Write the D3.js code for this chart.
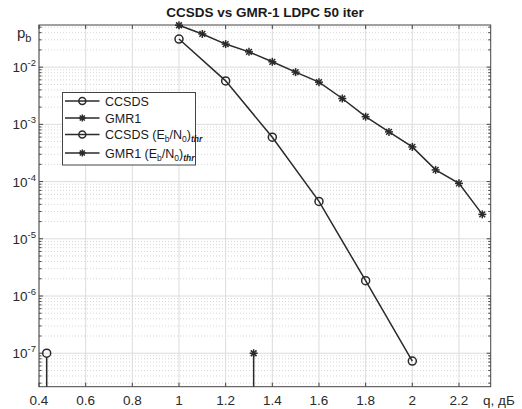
<!DOCTYPE html>
<html><head><meta charset="utf-8">
<script src="https://cdn.jsdelivr.net/npm/d3@7"></script>
<style>body{margin:0;background:#fff;} text{font-family:"Liberation Sans",Arial,sans-serif;}</style>
</head><body>
<svg id="c" width="522" height="409"></svg>
<script>
const ccsdsX = [1.0, 1.2, 1.4, 1.6, 1.8, 2.0];
const ccsdsY = [0.031, 0.00575, 5.96e-4, 4.5e-5, 1.85e-6, 7.3e-8];
const gmrX = [1.0, 1.1, 1.2, 1.3, 1.4, 1.5, 1.6, 1.7, 1.8, 1.9, 2.0, 2.1, 2.2, 2.3];
const gmrY = [0.054, 0.038, 0.0253, 0.0185, 0.0124, 0.00818, 0.00546, 0.00283, 0.00136, 7.38e-4, 4.03e-4, 1.6e-4, 9.3e-5, 2.67e-5];
const thrCcsds = [0.433, 1e-7];
const thrGmr = [1.32, 1e-7];
const xTicks = [0.4, 0.6, 0.8, 1, 1.2, 1.4, 1.6, 1.8, 2, 2.2];
const yExps = [-7, -6, -5, -4, -3, -2];
const legendLabels = ["CCSDS", "GMR1", "CCSDS (E_b/N_0)_thr", "GMR1 (E_b/N_0)_thr"];

const svg = d3.select("#c");
const L = 39, R = 490.7, T = 25, B = 386.7;
const x = d3.scaleLinear().domain([0.4, 2.336]).range([L, R]);
const y = d3.scaleLog().domain([2.6e-8, 0.0545]).range([B, T]);
const ink = "#2a2a2a";
const lw = 1.5;

// grid
const g = svg.append("g");
xTicks.forEach(t => g.append("line").attr("x1", x(t)).attr("x2", x(t)).attr("y1", T).attr("y2", B)
  .attr("stroke", "#dcdcdc").attr("stroke-width", 1));
for (let e = -8; e <= -1; e++) {
  for (let m = 1; m <= 9; m++) {
    const v = m * Math.pow(10, e);
    if (v < y.domain()[0] || v > y.domain()[1]) continue;
    const yy = y(v);
    if (m === 1) g.append("line").attr("x1", L).attr("x2", R).attr("y1", yy).attr("y2", yy).attr("stroke", "#dcdcdc");
    else g.append("line").attr("x1", L).attr("x2", R).attr("y1", yy).attr("y2", yy).attr("stroke", "#d6d6d6").attr("stroke-dasharray", "1,2");
  }
}

// axes box
svg.append("rect").attr("x", L).attr("y", T).attr("width", R - L).attr("height", B - T)
  .attr("fill", "none").attr("stroke", "#444").attr("stroke-width", 1);

// x ticks
xTicks.forEach(t => {
  svg.append("line").attr("x1", x(t)).attr("x2", x(t)).attr("y1", B).attr("y2", B - 4).attr("stroke", "#444");
  svg.append("line").attr("x1", x(t)).attr("x2", x(t)).attr("y1", T).attr("y2", T + 4).attr("stroke", "#444");
  svg.append("text").attr("x", x(t)).attr("y", 405).attr("text-anchor", "middle").attr("font-size", 13.5)
    .attr("fill", "#2a2a2a").text(d3.format("~g")(t));
});
// y ticks
for (let e = -8; e <= -1; e++) {
  for (let m = 1; m <= 9; m++) {
    const v = m * Math.pow(10, e);
    if (v < y.domain()[0] || v > y.domain()[1]) continue;
    const len = m === 1 ? 4 : 2.5;
    svg.append("line").attr("x1", L).attr("x2", L + len).attr("y1", y(v)).attr("y2", y(v)).attr("stroke", "#444");
    svg.append("line").attr("x1", R).attr("x2", R - len).attr("y1", y(v)).attr("y2", y(v)).attr("stroke", "#444");
  }
}
yExps.forEach(e => {
  const t = svg.append("text").attr("x", 36).attr("y", y(Math.pow(10, e)) + 5).attr("text-anchor", "end")
    .attr("font-size", 13.5).attr("fill", "#2a2a2a");
  t.append("tspan").text("10");
  t.append("tspan").attr("font-size", 9.5).attr("dy", -6).text(String(e));
});

// title & axis labels
svg.append("text").attr("x", 265).attr("y", 17).attr("text-anchor", "middle").attr("font-size", 13.5)
  .attr("font-weight", "bold").attr("fill", "#1a1a1a").text("CCSDS vs GMR-1 LDPC 50 iter");
const pb = svg.append("text").attr("x", 17).attr("y", 38).attr("font-size", 15).attr("fill", "#2a2a2a");
pb.append("tspan").text("p");
pb.append("tspan").attr("font-size", 11).attr("dy", 4).text("b");
svg.append("text").attr("x", 483).attr("y", 405).attr("font-size", 13.5).attr("fill", "#2a2a2a").text("q, дБ");

// markers
function star(sel, cx, cy, s) {
  const gg = sel.append("g").attr("stroke", ink).attr("stroke-width", lw);
  gg.append("line").attr("x1", cx - s).attr("x2", cx + s).attr("y1", cy).attr("y2", cy);
  gg.append("line").attr("x1", cx).attr("x2", cx).attr("y1", cy - s).attr("y2", cy + s);
  const d = s * 0.72;
  gg.append("line").attr("x1", cx - d).attr("x2", cx + d).attr("y1", cy - d).attr("y2", cy + d);
  gg.append("line").attr("x1", cx - d).attr("x2", cx + d).attr("y1", cy + d).attr("y2", cy - d);
}
function circ(sel, cx, cy, r) {
  sel.append("circle").attr("cx", cx).attr("cy", cy).attr("r", r).attr("fill", "none").attr("stroke", ink).attr("stroke-width", lw);
}

const line = d3.line().x(d => x(d[0])).y(d => y(d[1]));
const cData = ccsdsX.map((v, i) => [v, ccsdsY[i]]);
const gData = gmrX.map((v, i) => [v, gmrY[i]]);
svg.append("path").attr("d", line(cData)).attr("fill", "none").attr("stroke", ink).attr("stroke-width", lw);
svg.append("path").attr("d", line(gData)).attr("fill", "none").attr("stroke", ink).attr("stroke-width", lw);
cData.forEach(d => circ(svg, x(d[0]), y(d[1]), 4));
gData.forEach(d => star(svg, x(d[0]), y(d[1]), 4));

// thresholds (stems)
svg.append("line").attr("x1", x(thrCcsds[0])).attr("x2", x(thrCcsds[0])).attr("y1", B).attr("y2", y(thrCcsds[1]) + 4)
  .attr("stroke", ink).attr("stroke-width", lw);
circ(svg, x(thrCcsds[0]), y(thrCcsds[1]), 4);
svg.append("line").attr("x1", x(thrGmr[0])).attr("x2", x(thrGmr[0])).attr("y1", B).attr("y2", y(thrGmr[1]))
  .attr("stroke", ink).attr("stroke-width", lw);
star(svg, x(thrGmr[0]), y(thrGmr[1]), 4);

// legend
const lg = svg.append("g");
lg.append("rect").attr("x", 62.5).attr("y", 92.5).attr("width", 133).attr("height", 72.5)
  .attr("fill", "#fff").attr("stroke", "#444").attr("stroke-width", 1);
const ly = [101, 118, 134.5, 153];
legendLabels.forEach((lab, i) => {
  lg.append("line").attr("x1", 65).attr("x2", 99.5).attr("y1", ly[i]).attr("y2", ly[i]).attr("stroke", ink).attr("stroke-width", lw);
  if (i % 2 === 0) circ(lg, 82.3, ly[i], 3.5); else star(lg, 82.3, ly[i], 3.5);
  const t = lg.append("text").attr("x", 105).attr("y", ly[i] + 4.5).attr("font-size", 12.5).attr("fill", "#1a1a1a");
  const m = lab.match(/^(\S+) \(E_b\/N_0\)_thr$/);
  if (!m) { t.text(lab); return; }
  t.append("tspan").text(m[1] + " (E");
  t.append("tspan").attr("font-size", 8.5).attr("dy", 3).text("b");
  t.append("tspan").attr("dy", -3).text("/N");
  t.append("tspan").attr("font-size", 8.5).attr("dy", 3).text("0");
  t.append("tspan").attr("dy", -3).text(")");
  t.append("tspan").attr("font-size", 8.5).attr("dy", 3).attr("font-style", "italic").attr("font-weight", "bold").text("thr");
});
</script>
</body></html>
